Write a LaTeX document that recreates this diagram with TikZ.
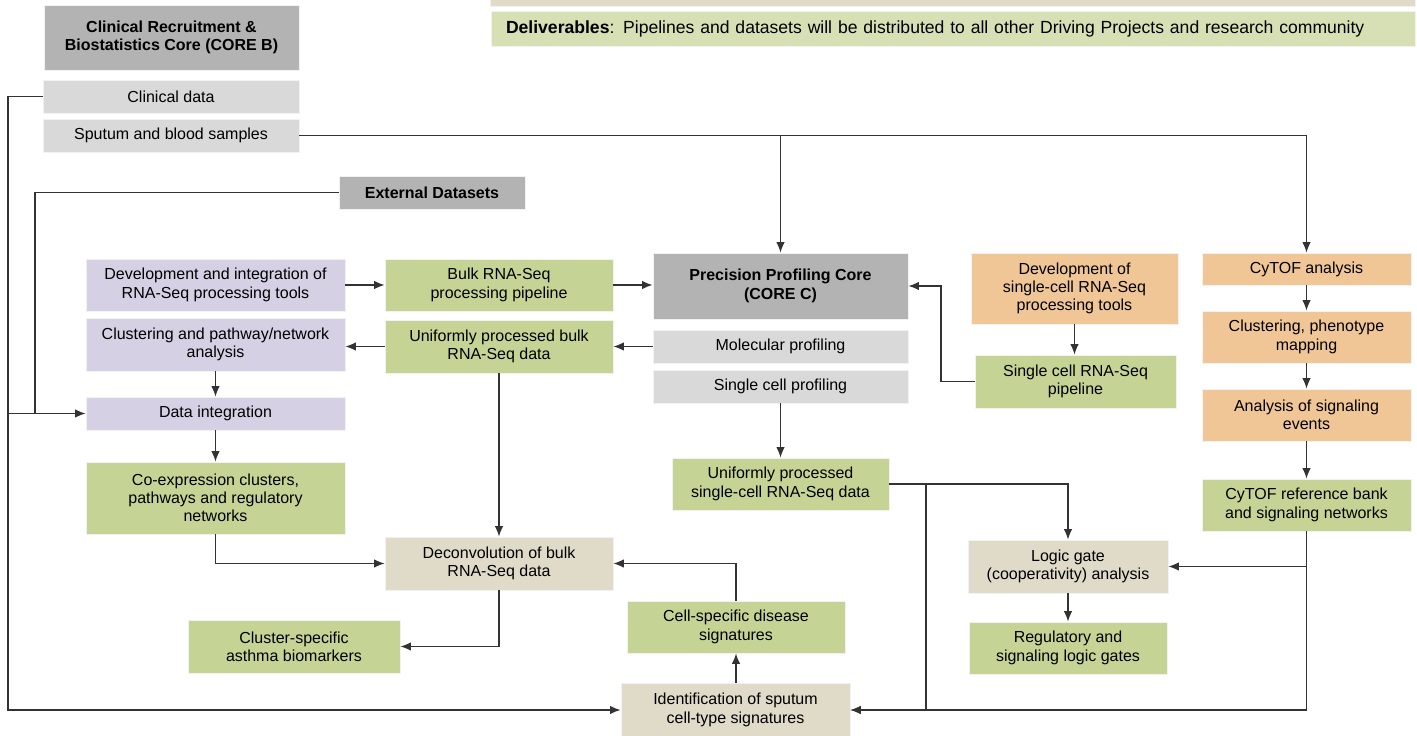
\documentclass[tikz,border=0pt]{standalone}
\usepackage{fontspec}
\setmainfont{Liberation Sans}
\usetikzlibrary{arrows.meta,calc}
\definecolor{dgray}{HTML}{B3B3B3}
\definecolor{lgray}{HTML}{D9D9D9}
\definecolor{lpurple}{HTML}{D5D0E4}
\definecolor{lgreen}{HTML}{C5D495}
\definecolor{pgreen}{HTML}{D6E0B4}
\definecolor{lorange}{HTML}{F0C696}
\definecolor{lbeige}{HTML}{DFDBC8}
\definecolor{lnc}{HTML}{333333}
\newcommand\bx[7]{\node[box,#6,minimum width={(#4-#2)*0.02cm},minimum height={(#5-#3)*0.02cm}] (#1) at ({(#2+#4)/2},{(#3+#5)/2}) {#7};}
\begin{document}
\begin{tikzpicture}[x=0.02cm,y=-0.02cm,
  box/.style={inner sep=0pt,align=center,font=\fontsize{9.1}{10.4}\selectfont,draw=white!95!black,line width=0.4pt},
  core/.style={fill=dgray,font=\fontsize{9.1}{10.4}\selectfont\bfseries},
  gry/.style={fill=lgray},
  pur/.style={fill=lpurple},
  grn/.style={fill=lgreen},
  org/.style={fill=lorange},
  bge/.style={fill=lbeige},
  line/.style={draw=lnc,line width=0.75pt},
  arr/.style={line,-{Latex[length=6pt,width=4.8pt]}}]
\useasboundingbox (0,0) rectangle (1417,736);
% top strip and deliverables
\bx{strip}{490}{-4}{1415}{6}{bge}{}
\node[box,fill=pgreen,minimum height={35*0.02cm},text width={(924-30)*0.02cm},inner xsep={15*0.02cm},align=left,font=\fontsize{10}{12}\selectfont] (deliv) at ({(491+1415)/2},29) {\textbf{Deliverables}: Pipelines and datasets will be distributed to all other Driving Projects and research community};
% Core B
\bx{coreb}{44}{5}{299}{70}{core}{Clinical Recruitment \&\\Biostatistics Core (CORE B)}
\bx{clin}{43}{80}{299}{113}{gry}{Clinical data}
\bx{sput}{43}{119}{299}{152}{gry}{Sputum and blood samples}
\bx{ext}{339}{176}{525}{209}{core}{External Datasets}
% left column
\bx{dev}{86}{259}{345}{311}{pur}{Development and integration of\\RNA-Seq processing tools}
\bx{clust}{86}{318}{345}{371}{pur}{Clustering and pathway/network\\analysis}
\bx{dint}{86}{397}{345}{430}{pur}{Data integration}
\bx{coexp}{86}{462}{345}{534}{grn}{Co-expression clusters,\\pathways and regulatory\\networks}
% bulk column
\bx{bulk}{385}{259}{613}{311}{grn}{Bulk RNA-Seq\\processing pipeline}
\bx{ubulk}{385}{320}{613}{373}{grn}{Uniformly processed bulk\\RNA-Seq data}
\bx{decon}{385}{537}{613}{590}{bge}{Deconvolution of bulk\\RNA-Seq data}
\bx{clsp}{188}{620}{400}{673}{grn}{Cluster-specific\\asthma biomarkers}
% core C
\bx{corec}{653}{253}{908}{319}{core}{Precision Profiling Core\\(CORE C)}
\bx{mol}{653}{330}{908}{363}{gry}{Molecular profiling}
\bx{scprof}{653}{370}{908}{403}{gry}{Single cell profiling}
\bx{usc}{672}{458}{889}{510}{grn}{Uniformly processed\\single-cell RNA-Seq data}
\bx{cellsp}{627}{601}{845}{653}{grn}{Cell-specific disease\\signatures}
\bx{ident}{621}{683}{850}{737}{bge}{Identification of sputum\\cell-type signatures}
% single cell
\bx{devsc}{971}{253}{1178}{324}{org}{Development of\\single-cell RNA-Seq\\processing tools}
\bx{scpipe}{975}{355}{1176}{408}{grn}{Single cell RNA-Seq\\pipeline}
\bx{logic}{968}{540}{1168}{593}{bge}{Logic gate\\(cooperativity) analysis}
\bx{reg}{969}{622}{1167}{674}{grn}{Regulatory and\\signaling logic gates}
% cytof
\bx{cytof}{1202}{253}{1411}{285}{org}{CyTOF analysis}
\bx{clph}{1202}{311}{1411}{363}{org}{Clustering, phenotype\\mapping}
\bx{sig}{1202}{389}{1411}{441}{org}{Analysis of signaling\\events}
\bx{cref}{1202}{479}{1411}{531}{grn}{CyTOF reference bank\\and signaling networks}
% helper coordinates
\coordinate (L) at (8,0);
\coordinate (E) at (35,0);
\coordinate (P) at (941,0);
\coordinate (Q) at (926,0);
% connectors
\draw[arr] (clin.west) -- (clin.west -| L) |- (ident.west);
\draw[arr] (L |- dint.west) -- (dint.west);
\draw[line] (ext.west) -| (E |- dint.west);
\draw[arr] (sput.east) -| (cytof.north);
\draw[arr] (sput.east -| corec.north) -- (corec.north);
\draw[arr] (dev.east) -- (bulk.west);
\draw[arr] (bulk.east) -- (bulk.east -| corec.west);
\draw[arr] (mol.west) -- (ubulk.east);
\draw[arr] (ubulk.west) -- (ubulk.west -| clust.east);
\draw[arr] (clust.south) -- (dint.north);
\draw[arr] (dint.south) -- (coexp.north);
\draw[arr] (ubulk.south) -- (decon.north);
\draw[arr] (coexp.south) |- (decon.west);
\draw[arr] (decon.south) |- (clsp.east);
\draw[arr] (cellsp.north) |- (decon.east);
\draw[arr] (ident.north -| cellsp.south) -- (cellsp.south);
\draw[arr] (scpipe.west) -| (P |- corec.east) -- (corec.east);
\draw[arr] (devsc.south) -- (devsc.south |- scpipe.north);
\draw[arr] (scprof.south) -- (usc.north);
\draw[arr] (usc.east) -| (logic.north);
\draw[arr] (usc.east -| Q) |- (ident.east);
\draw[arr] (cref.south) |- (ident.east);
\draw[arr] (cref.south |- logic.east) -- (logic.east);
\draw[arr] (logic.south) -- (reg.north);
\draw[arr] (cytof.south) -- (clph.north);
\draw[arr] (clph.south) -- (sig.north);
\draw[arr] (sig.south) -- (cref.north);
\end{tikzpicture}
\end{document}
